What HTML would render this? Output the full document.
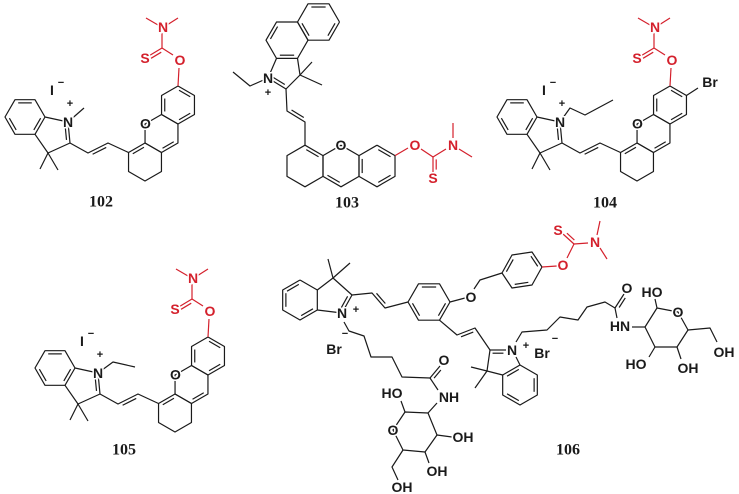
<!DOCTYPE html>
<html><head><meta charset="utf-8"><style>
html,body{margin:0;padding:0;background:#fff;}
svg{display:block}
text{font-family:"Liberation Sans",Arial,sans-serif;font-weight:bold;}
</style></head><body>
<svg id="s" width="739" height="494" viewBox="0 0 739 494" xmlns="http://www.w3.org/2000/svg"></svg>
<script>
const S=document.getElementById('s');const NS='http://www.w3.org/2000/svg';
const K='#1a1a1a',R='#d4202c';
let tx=0,ty=0;
function el(n,a){const e=document.createElementNS(NS,n);for(const k in a)e.setAttribute(k,a[k]);S.appendChild(e);return e;}
function P(p){return [p[0]+tx,p[1]+ty];}
function L(pts,col){el('polyline',{points:pts.map(p=>P(p).join(',')).join(' '),fill:'none',stroke:col||K,'stroke-width':1.2,'stroke-linejoin':'round'});}
function D(a,b,c,col){
 const mx=(a[0]+b[0])/2,my=(a[1]+b[1])/2;let dx=b[0]-a[0],dy=b[1]-a[1];const l=Math.hypot(dx,dy);
 let nx=-dy/l,ny=dx/l;if((c[0]-mx)*nx+(c[1]-my)*ny<0){nx=-nx;ny=-ny;}
 const o=3.2,sh=0.16;
 L([[a[0]+dx*sh+nx*o,a[1]+dy*sh+ny*o],[b[0]-dx*sh+nx*o,b[1]-dy*sh+ny*o]],col);}
function hexV(cx,cy,r,pointy){const v=[];for(let i=0;i<6;i++){const an=(pointy?-90:0)+60*i;v.push([cx+r*Math.cos(an*Math.PI/180),cy+r*Math.sin(an*Math.PI/180)]);}return v;}
function ring(v,d,col){L(v.concat([v[0]]),col);const c=[0,0];v.forEach(p=>{c[0]+=p[0]/v.length;c[1]+=p[1]/v.length;});(d||[]).forEach(i=>D(v[i],v[(i+1)%v.length],c,col));}
function T(x,y,s,col,size,fam){const q=P([x,y]);const e=el('text',{x:q[0],y:q[1],fill:col||K,'font-size':size||14,'text-anchor':'middle','dominant-baseline':'central',stroke:'#fff','stroke-width':3,'paint-order':'stroke'});if(fam)e.setAttribute('style','font-family:'+fam);e.textContent=s;return e;}
function LBL(x,y,s){T(x,y,s,K,16,'"Liberation Serif",serif');}

function cy102(dx,dy,type){
 tx=dx;ty=dy;
 const b=hexV(25,117,20,false);ring(b,[0,2,4]);
 const N=[68,122],C2=[70,143],C3=[48,153];
 L([b[0],N]);L([N,C2]);D(N,C2,[50,130]);L([C2,C3,b[1]]);
 L([C3,[40,169]]);L([C3,[58,170]]);
 if(type==0)L([N,[84,108]]);
 if(type==1)L([N,[83,111],[105,116]]);
 if(type==2)L([N,[78,108],[93,115],[121,100]]);
 T(52,90,'I');T(61,83,'−',K,11);
 T(70,104,'+',K,11);
 L([C2,[88,153],[108,143],[128.5,152.5]]);D([88,153],[108,143],[100,160]);
 const A=hexV(145,162,19,true),B=hexV(161.5,133.5,19,true),C=hexV(178,105,19,true);
 ring(A,[5]);ring(B,[2]);ring(C,[4,0,2]);
 T(145.5,123.5,'O');T(N[0],N[1],'N');
 L([C[0],[179,68]],R);
 T(180,60,'O',R);L([[173,55],[162,48]],R);
 L([[162,48],[147,57]],R);D([162,48],[147,57],[160,62],R);
 L([[162,48],[162,33]],R);L([[158,25],[146,18]],R);L([[167,25],[178,18]],R);
 T(163,27,'N',R);T(145,58,'S',R);
 if(type==2){L([C[1],[206,88]]);T(218,82,'Br');}
 tx=0;ty=0;
}
cy102(0,0,0);LBL(101,202,'102');
cy102(30,251,1);LBL(124,450,'105');
cy102(492,0,2);LBL(605,203,'104');

(function(){
 const A=hexV(318.5,22,21,false);ring(A,[4,0,2]);
 const B=hexV(287,40.2,21,false);ring(B,[3,1]);
 const N=[268,78],C2=[286,89],C3=[300,75];
 L([B[2],N]);L([N,C2]);D(N,C2,[285,70]);L([C2,C3,B[1]]);
 L([C3,[312,62]]);L([C3,[322,85]]);
 L([N,[250,86],[233,72]]);T(N[0],N[1],'N');T(268,93,'+',K,11);
 L([C2,[287,111],[305,122],[305,145.2]]);D([287,111],[305,122],[300,108]);
 const A2=hexV(305,166,20.8,true),B2=hexV(341,166,20.8,true),C=hexV(377,166,20.8,true);
 ring(A2,[0]);ring(B2,[]);D(B2[4],B2[3],[341,166]);ring(C,[4,0,2]);
 T(341,145.2,'O');
 L([C[1],[408,148]],R);T(415,145,'O',R);
 L([[421,149],[433,157]],R);L([[433,157],[433,172]],R);D([433,157],[433,172],[445,165],R);T(433,178,'S',R);
 L([[433,157],[446,149]],R);T(453,145,'N',R);L([[453,138],[453,123]],R);L([[459,149],[472,157]],R);
 LBL(347,203,'103');
})();

(function(){
 const b=hexV(300,300,20,true);ring(b,[4,2,5]);
 const N=[342,313],C2=[352,295],C3=[333,278];
 L([b[2],N]);L([N,C2]);D(N,C2,[330,295]);L([C2,C3,b[1]]);
 L([C3,[328,259]]);L([C3,[350,263]]);
 T(N[0],N[1],'N');T(356,310,'+',K,11);T(345,334,'−',K,11);T(334,349,'Br');
 L([C2,[372,293],[385,308],[408,302]]);D([372,293],[385,308],[385,295]);
 const M=hexV(429,302,21,false);ring(M,[0,2,4]);
 L([M[0],[465,298]]);T(471,297,'O');L([[474,289],[480,280],[502,273]]);
 const Bz=[[502,273],[512,255],[532,252],[542,267],[532,285],[512,288]];ring(Bz,[0,2,4]);
 L([[542,267],[557,266]],R);T(563,265,'O',R);L([[567,258],[574,244]],R);
 L([[574,244],[563,234]],R);D([574,244],[563,234],[575,234],R);T(558,230,'S',R);
 L([[574,244],[588,243]],R);T(595,242,'N',R);L([[597,235],[600,221]],R);L([[600,248],[607,259]],R);
 L([M[1],[457,335],[475,328],[490,350]]);D([457,335],[475,328],[468,342]);
 const N2=[512,350],C22=[490,350],C32=[487,371];
 L([C22,[506,350]]);D([490,350],[506,350],[500,360]);L([C22,C32]);
 const b2=hexV(520,385,20,true);ring(b2,[1,3,5]);
 L([[516,357],b2[0]]);L([C32,b2[5]]);L([C32,[471,367]]);L([C32,[475,388]]);
 T(N2[0],N2[1],'N');T(526,346,'+',K,11);T(542,353,'Br');T(555,339,'−',K,11);
 L([[344,322],[349,331],[364,336],[371,357],[392,357],[402,377],[430,378]]);
 L([[430,378],[440,366]]);D([430,378],[440,366],[445,378]);T(444,360,'O');
 L([[430,378],[438,390]]);T(449,397,'NH');
 const S1=[[405,412],[428,413],[437,435],[425,452],[403,450],[393,430]];L(S1.concat([S1[0]]));
 L([[428,413],[437,403]]);L([[405,412],[401,401]]);T(392,393,'HO');
 L([[437,435],[452,437]]);T(463,437,'OH');L([[425,452],[429,463]]);T(437,471,'OH');
 L([[403,450],[392,467],[398,480]]);T(402,487,'OH');T(393,430,'O');
 L([[516,342],[522,332],[547,330],[560,317],[578,320],[587,307],[605,302],[615,308]]);
 L([[615,308],[624,294]]);D([615,308],[624,294],[628,306]);T(627,288,'O');
 L([[615,308],[617,318]]);T(620,326,'HN');L([[632,327],[645,327]]);
 const S2=[[657,308],[678,312],[688,330],[677,347],[655,347],[645,327]];L(S2.concat([S2[0]]));
 T(678,312,'O');L([[657,308],[655,299]]);T(652,292,'HO');
 L([[655,347],[649,357]]);T(636,364,'HO');L([[677,347],[681,359]]);T(688,368,'OH');
 L([[688,330],[710,328],[717,342]]);T(724,352,'OH');
 LBL(568,450,'106');
})();
</script>
</body></html>
